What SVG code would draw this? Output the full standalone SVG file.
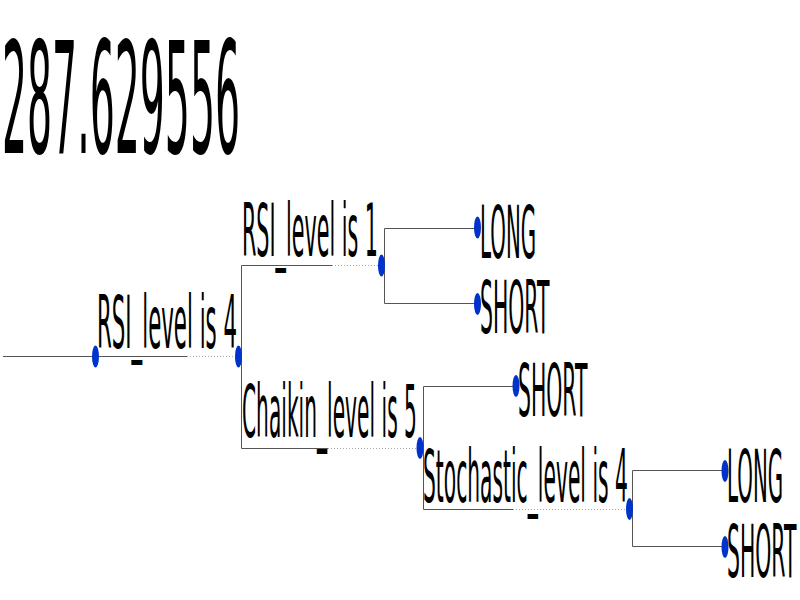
<svg xmlns="http://www.w3.org/2000/svg" width="800" height="600" viewBox="0 0 800 600">
<style>
.t{font-family:"DejaVu Sans",sans-serif;font-size:73px;fill:#000}
.title{font-family:"DejaVu Sans",sans-serif;font-size:155px;fill:#000}
.s{stroke:#555;stroke-width:1;fill:none}
.d{stroke:#aaa;stroke-width:1;stroke-dasharray:1,2;fill:none}
.dot{fill:#0033cc}
</style>
<rect width="800" height="600" fill="#fff"/>
<g id="title" transform="translate(2,153) scale(0.2541,1)"><text class="title" x="0" y="0">287.629556</text></g>
<g id="connectors">
<line class="s" x1="3" y1="356.5" x2="187" y2="356.5"/>
<line class="d" x1="187" y1="356.5" x2="236" y2="356.5"/>
<line class="s" x1="241.5" y1="265.5" x2="241.5" y2="448.5"/>
<line class="s" x1="241.5" y1="265.5" x2="332" y2="265.5"/>
<line class="d" x1="332" y1="265.5" x2="379" y2="265.5"/>
<line class="s" x1="384.5" y1="228.5" x2="384.5" y2="303.5"/>
<line class="s" x1="384.5" y1="228.5" x2="475" y2="228.5"/>
<line class="s" x1="384.5" y1="303.5" x2="475" y2="303.5"/>
<line class="s" x1="241.5" y1="448.5" x2="328" y2="448.5"/>
<line class="d" x1="328" y1="448.5" x2="417" y2="448.5"/>
<line class="s" x1="423.5" y1="386.5" x2="423.5" y2="509.5"/>
<line class="s" x1="423.5" y1="386.5" x2="514" y2="386.5"/>
<line class="s" x1="423.5" y1="509.5" x2="513" y2="509.5"/>
<line class="d" x1="513" y1="509.5" x2="627" y2="509.5"/>
<line class="s" x1="632.5" y1="470.5" x2="632.5" y2="546.5"/>
<line class="s" x1="632.5" y1="470.5" x2="723" y2="470.5"/>
<line class="s" x1="632.5" y1="546.5" x2="723" y2="546.5"/>
</g>
<g id="n-root">
<ellipse class="dot" cx="95.5" cy="356.5" rx="3.5" ry="11"/>
<g transform="translate(97,348) scale(0.2917,1)"><text class="t" x="0" y="0">RSI_level is 4</text></g>
<ellipse class="dot" cx="238.5" cy="356.5" rx="3.5" ry="11"/>
</g>
<g id="n-rsi1">
<g transform="translate(242,256) scale(0.2834,1)"><text class="t" x="0" y="0">RSI_level is 1</text></g>
<ellipse class="dot" cx="381.5" cy="265.5" rx="3.5" ry="11"/>
</g>
<g id="n-long1">
<ellipse class="dot" cx="477.5" cy="227.5" rx="3.5" ry="11"/>
<g transform="translate(480,258) scale(0.2723,1)"><text class="t" x="0" y="0">LONG</text></g>
</g>
<g id="n-short1">
<ellipse class="dot" cx="477.5" cy="304" rx="3.5" ry="11"/>
<g transform="translate(480,333) scale(0.2795,1)"><text class="t" x="0" y="0">SHORT</text></g>
</g>
<g id="n-chaikin">
<g transform="translate(242,437) scale(0.2767,1)"><text class="t" x="0" y="0">Chaikin_level is 5</text></g>
<ellipse class="dot" cx="420" cy="448" rx="3.5" ry="11"/>
</g>
<g id="n-short2">
<ellipse class="dot" cx="516" cy="386" rx="3.5" ry="11"/>
<g transform="translate(518,416) scale(0.2795,1)"><text class="t" x="0" y="0">SHORT</text></g>
</g>
<g id="n-stoch">
<g transform="translate(423,502) scale(0.2773,1)"><text class="t" x="0" y="0">Stochastic_level is 4</text></g>
<ellipse class="dot" cx="629.5" cy="509" rx="3.5" ry="11"/>
</g>
<g id="n-long2">
<ellipse class="dot" cx="725" cy="471" rx="3.5" ry="11"/>
<g transform="translate(727,502) scale(0.2723,1)"><text class="t" x="0" y="0">LONG</text></g>
</g>
<g id="n-short3">
<ellipse class="dot" cx="725" cy="547" rx="3.5" ry="11"/>
<g transform="translate(727,577) scale(0.2795,1)"><text class="t" x="0" y="0">SHORT</text></g>
</g>
</svg>
